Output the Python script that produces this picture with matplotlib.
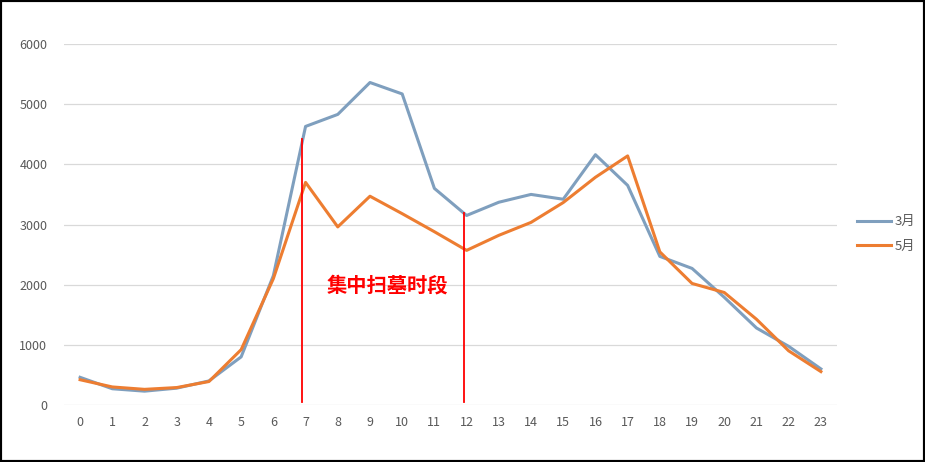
import matplotlib.pyplot as plt
from matplotlib.patches import Rectangle

plt.rcParams['font.family'] = ['Noto Sans CJK SC', 'DejaVu Sans']

hours = list(range(24))
march = [460, 270, 230, 280, 400, 800, 2150, 4630, 4830, 5360, 5170, 3600,
         3150, 3370, 3500, 3420, 4160, 3650, 2470, 2270, 1790, 1280, 975, 600]
may = [420, 300, 260, 290, 390, 920, 2100, 3700, 2960, 3470, 3180, 2880,
       2570, 2820, 3035, 3365, 3785, 4140, 2545, 2020, 1870, 1425, 900, 555]
series_names = ['3月', '5月']
marker_x = [6.9, 11.93]
marker_top = [4420, 3190]
note = '集中扫墓时段'

fig = plt.figure(figsize=(9.25, 4.62), dpi=100)
ax = fig.add_axes([64 / 925, 1 - 405 / 462, (837 - 64) / 925, (405 - 44) / 462])

ax.plot(hours, march, color='#7f9fbe', lw=2.2, label=series_names[0])
ax.plot(hours, may, color='#ed7d31', lw=2.2, label=series_names[1])

for x, top in zip(marker_x, marker_top):
    ax.plot([x, x], [50, top], color='#ff0000', lw=1.3)

ax.text(9.53, 2000, note, color='#ff0000', fontsize=14.6, fontweight='bold',
        ha='center', va='center')

ax.set_xlim(-0.5, 23.5)
ax.set_ylim(0, 6000)
ax.set_xticks(hours)
ax.set_yticks(range(0, 6001, 1000))
ax.grid(axis='y', color='#d9d9d9', lw=0.9)
ax.set_axisbelow(True)
for s in ax.spines.values():
    s.set_visible(False)
ax.tick_params(length=0, colors='#595959', labelsize=9, pad=8)
ax.tick_params(axis='y', pad=12)

ax.legend(loc='center left', bbox_to_anchor=(845 / 925, 1 - 234 / 462),
          bbox_transform=fig.transFigure, frameon=False, fontsize=9.5,
          handlelength=2.6, handletextpad=0.3, labelspacing=0.85,
          labelcolor='#595959')

fig.patches.append(Rectangle((0, 0), 1, 1, transform=fig.transFigure,
                             fill=False, edgecolor='black', lw=3))

fig.savefig('out.png', dpi=100)
